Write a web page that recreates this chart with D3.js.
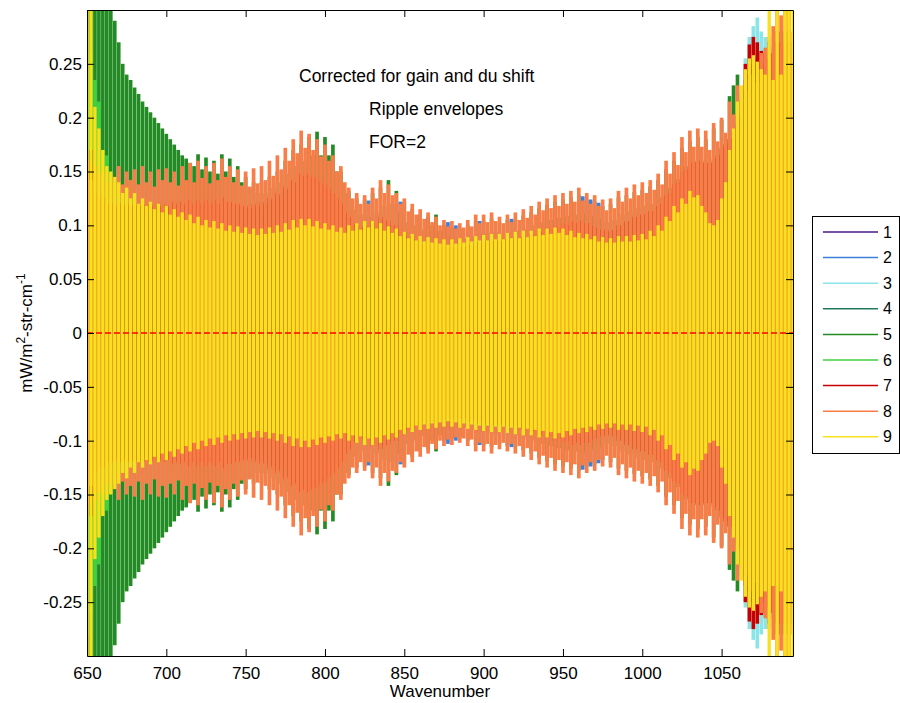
<!DOCTYPE html>
<html>
<head>
<meta charset="utf-8">
<script src="https://cdn.jsdelivr.net/npm/d3@7"></script>
<style>
body { margin: 0; background: #fff; }
svg text { font-family: "Liberation Sans", Arial, sans-serif; }
</style>
</head>
<body>
<div id="chart"></div>
<script>
// ripple envelope (mW/m2-str-cm-1), one value every 2.5 cm-1 from 650 to 1095
var wavenumber = d3.range(650, 1095.01, 2.5);

var ripple1 = [
  0.20,0.16,0.13,0.12, 0.115,0.112,0.11,0.11, 0.11,0.108,0.11,0.108, 0.11,0.108,0.11,0.108,
  0.11,0.108,0.11,0.108, 0.11,0.108,0.112,0.11, 0.112,0.11,0.114,0.11, 0.114,0.11,0.114,0.11,
  0.114,0.11,0.116,0.112, 0.112,0.11,0.11,0.108, 0.108,0.106,0.11,0.108, 0.112,0.11,0.116,0.114,
  0.12,0.118,0.126,0.124, 0.132,0.13,0.138,0.136, 0.138,0.135,0.134,0.13, 0.128,0.124,0.12,0.115,
  0.11,0.104,0.10,0.095, 0.093,0.091,0.093,0.091, 0.097,0.095,0.10,0.098, 0.097,0.093,0.093,0.09,
  0.088,0.085,0.085,0.082, 0.081,0.079,0.08,0.078, 0.078,0.076,0.076,0.075, 0.076,0.075,0.076,0.076,
  0.078,0.077,0.08,0.079, 0.081,0.08,0.082,0.081, 0.082,0.081,0.083,0.082, 0.084,0.083,0.086,0.085,
  0.088,0.087,0.09,0.089, 0.092,0.091,0.094,0.093, 0.096,0.095,0.097,0.096, 0.097,0.096,0.095,0.094,
  0.092,0.09,0.09,0.088, 0.09,0.089,0.093,0.093, 0.096,0.096,0.10,0.10, 0.102,0.102,0.105,0.105,
  0.11,0.112,0.119,0.121, 0.128,0.13,0.14,0.142, 0.147,0.147,0.149,0.147, 0.147,0.147,0.151,0.154,
  0.16,0.168,0.178,0.188, 0.195,0.205,0.22,0.235, 0.245,0.245,0.24,0.238, 0.24,0.245,0.25,0.25,
  0.25,0.25,0.245
];
var ripple2 = [
  0.22,0.18,0.14,0.13, 0.125,0.12,0.12,0.118, 0.12,0.115,0.118,0.115, 0.118,0.115,0.118,0.115,
  0.118,0.115,0.118,0.116, 0.118,0.116,0.12,0.118, 0.12,0.118,0.122,0.118, 0.122,0.118,0.122,0.118,
  0.122,0.118,0.124,0.12, 0.12,0.118,0.118,0.116, 0.116,0.114,0.118,0.116, 0.12,0.118,0.124,0.122,
  0.128,0.126,0.134,0.132, 0.14,0.138,0.146,0.144, 0.146,0.143,0.142,0.138, 0.136,0.132,0.128,0.123,
  0.118,0.11,0.106,0.10, 0.098,0.096,0.10,0.123, 0.104,0.102,0.108,0.105, 0.104,0.10,0.10,0.122,
  0.094,0.09,0.09,0.087, 0.086,0.083,0.084,0.082, 0.082,0.08,0.08,0.103, 0.08,0.10,0.08,0.08,
  0.082,0.081,0.084,0.104, 0.085,0.084,0.086,0.085, 0.086,0.085,0.087,0.106, 0.088,0.087,0.09,0.089,
  0.092,0.091,0.095,0.094, 0.098,0.096,0.10,0.098, 0.102,0.10,0.104,0.102, 0.104,0.127,0.102,0.124,
  0.098,0.121,0.096,0.094, 0.096,0.095,0.10,0.10, 0.104,0.104,0.108,0.108, 0.11,0.11,0.113,0.113,
  0.118,0.12,0.128,0.13, 0.138,0.14,0.15,0.152, 0.158,0.158,0.16,0.158, 0.158,0.158,0.162,0.165,
  0.172,0.175,0.18,0.18, 0.19,0.20,0.23,0.245, 0.255,0.255,0.25,0.25, 0.25,0.255,0.26,0.26,
  0.26,0.26,0.255
];
var ripple3 = [
  0.21,0.17,0.135,0.125, 0.12,0.116,0.115,0.114, 0.115,0.112,0.114,0.112, 0.114,0.112,0.114,0.112,
  0.114,0.112,0.114,0.112, 0.114,0.112,0.116,0.114, 0.116,0.114,0.118,0.114, 0.118,0.114,0.118,0.114,
  0.118,0.114,0.12,0.116, 0.116,0.114,0.114,0.112, 0.112,0.11,0.114,0.112, 0.116,0.114,0.12,0.118,
  0.124,0.122,0.13,0.128, 0.136,0.134,0.142,0.14, 0.142,0.139,0.138,0.134, 0.132,0.128,0.124,0.119,
  0.114,0.107,0.103,0.098, 0.096,0.094,0.097,0.095, 0.10,0.098,0.104,0.101, 0.10,0.096,0.096,0.093,
  0.091,0.087,0.087,0.084, 0.083,0.081,0.082,0.08, 0.08,0.078,0.078,0.077, 0.078,0.077,0.078,0.078,
  0.08,0.079,0.082,0.081, 0.083,0.082,0.084,0.083, 0.084,0.083,0.085,0.084, 0.086,0.085,0.088,0.087,
  0.09,0.089,0.093,0.092, 0.096,0.094,0.098,0.096, 0.10,0.098,0.10,0.099, 0.10,0.098,0.098,0.096,
  0.094,0.092,0.092,0.09, 0.092,0.091,0.096,0.096, 0.10,0.10,0.104,0.104, 0.106,0.106,0.109,0.109,
  0.114,0.116,0.124,0.126, 0.134,0.136,0.146,0.148, 0.154,0.154,0.156,0.154, 0.154,0.154,0.158,0.161,
  0.168,0.176,0.18,0.18, 0.20,0.225,0.255,0.275, 0.285,0.293,0.28,0.275, 0.26,0.265,0.27,0.27,
  0.27,0.27,0.26
];
var ripple4 = [
  0.25,0.20,0.15,0.13, 0.12,0.117,0.116,0.115, 0.116,0.113,0.115,0.113, 0.115,0.113,0.115,0.113,
  0.115,0.113,0.115,0.113, 0.115,0.113,0.117,0.115, 0.117,0.115,0.119,0.115, 0.119,0.115,0.119,0.115,
  0.119,0.115,0.121,0.117, 0.117,0.115,0.115,0.113, 0.113,0.111,0.115,0.113, 0.117,0.115,0.121,0.119,
  0.125,0.123,0.131,0.129, 0.137,0.135,0.143,0.141, 0.143,0.14,0.139,0.135, 0.133,0.129,0.125,0.12,
  0.115,0.108,0.104,0.099, 0.097,0.095,0.098,0.096, 0.101,0.099,0.105,0.102, 0.101,0.097,0.097,0.094,
  0.092,0.088,0.088,0.085, 0.084,0.082,0.083,0.081, 0.081,0.079,0.079,0.078, 0.079,0.078,0.079,0.079,
  0.081,0.08,0.083,0.082, 0.084,0.083,0.085,0.084, 0.085,0.084,0.086,0.085, 0.087,0.086,0.089,0.088,
  0.091,0.09,0.094,0.093, 0.097,0.095,0.099,0.097, 0.101,0.099,0.101,0.10, 0.101,0.099,0.099,0.097,
  0.095,0.093,0.093,0.091, 0.093,0.092,0.097,0.097, 0.101,0.101,0.105,0.105, 0.107,0.107,0.11,0.11,
  0.115,0.117,0.125,0.127, 0.135,0.137,0.147,0.149, 0.155,0.155,0.157,0.155, 0.155,0.155,0.16,0.163,
  0.17,0.175,0.18,0.18, 0.19,0.20,0.225,0.24, 0.25,0.25,0.245,0.245, 0.245,0.25,0.255,0.255,
  0.255,0.255,0.25
];
var ripple5 = [
  0.30,0.30,0.30,0.30, 0.30,0.30,0.30,0.29, 0.27,0.25,0.24,0.235, 0.228,0.222,0.215,0.21,
  0.205,0.20,0.195,0.19, 0.185,0.18,0.175,0.17, 0.165,0.162,0.158,0.155, 0.166,0.152,0.163,0.15,
  0.16,0.148,0.166,0.15, 0.162,0.145,0.155,0.14, 0.145,0.135,0.14,0.13, 0.14,0.13,0.145,0.135,
  0.15,0.14,0.16,0.148, 0.17,0.155,0.175,0.16, 0.182,0.165,0.187,0.165, 0.182,0.165,0.175,0.15,
  0.15,0.13,0.132,0.115, 0.125,0.11,0.124,0.108, 0.13,0.112,0.135,0.118, 0.142,0.12,0.132,0.112,
  0.122,0.103,0.115,0.10, 0.11,0.096,0.108,0.10, 0.11,0.095,0.10,0.09, 0.098,0.088,0.097,0.088,
  0.10,0.09,0.104,0.092, 0.104,0.093,0.106,0.094, 0.103,0.092,0.105,0.093, 0.106,0.095,0.109,0.097,
  0.112,0.10,0.116,0.103, 0.119,0.105,0.122,0.107, 0.124,0.109,0.126,0.11, 0.128,0.111,0.124,0.108,
  0.122,0.106,0.118,0.103, 0.12,0.105,0.126,0.11, 0.128,0.113,0.131,0.116, 0.133,0.118,0.136,0.12,
  0.142,0.126,0.152,0.135, 0.16,0.143,0.172,0.155, 0.178,0.16,0.182,0.16, 0.18,0.158,0.19,0.165,
  0.198,0.175,0.22,0.23, 0.24,0.215,0.235,0.215, 0.25,0.235,0.26,0.25, 0.27,0.26,0.28,0.28,
  0.28,0.28,0.27
];
var ripple6 = [
  0.28,0.26,0.235,0.215, 0.17,0.165,0.14,0.13, 0.118,0.114,0.116,0.114, 0.116,0.114,0.116,0.114,
  0.116,0.114,0.116,0.114, 0.116,0.114,0.118,0.116, 0.118,0.116,0.12,0.116, 0.12,0.116,0.12,0.116,
  0.12,0.116,0.122,0.118, 0.118,0.116,0.116,0.114, 0.114,0.112,0.116,0.114, 0.118,0.116,0.122,0.12,
  0.126,0.124,0.132,0.13, 0.138,0.136,0.144,0.142, 0.144,0.141,0.14,0.136, 0.134,0.13,0.126,0.121,
  0.116,0.109,0.105,0.10, 0.098,0.096,0.099,0.097, 0.102,0.10,0.106,0.103, 0.102,0.098,0.098,0.095,
  0.093,0.089,0.089,0.086, 0.085,0.083,0.084,0.082, 0.082,0.08,0.08,0.079, 0.08,0.079,0.08,0.08,
  0.082,0.081,0.084,0.083, 0.085,0.084,0.086,0.085, 0.086,0.085,0.087,0.086, 0.088,0.087,0.09,0.089,
  0.092,0.091,0.095,0.094, 0.098,0.096,0.10,0.098, 0.102,0.10,0.102,0.101, 0.102,0.10,0.10,0.098,
  0.096,0.094,0.094,0.092, 0.094,0.093,0.098,0.098, 0.102,0.102,0.106,0.106, 0.108,0.108,0.111,0.111,
  0.116,0.118,0.126,0.128, 0.136,0.138,0.148,0.15, 0.156,0.156,0.158,0.156, 0.156,0.156,0.161,0.164,
  0.171,0.175,0.18,0.18, 0.19,0.20,0.225,0.24, 0.25,0.25,0.245,0.245, 0.245,0.25,0.255,0.255,
  0.255,0.255,0.25
];
var ripple7 = [
  0.14,0.17,0.13,0.125, 0.125,0.12,0.12,0.118, 0.12,0.118,0.12,0.118, 0.12,0.118,0.12,0.118,
  0.12,0.118,0.12,0.118, 0.12,0.118,0.122,0.12, 0.122,0.12,0.124,0.12, 0.124,0.12,0.124,0.12,
  0.124,0.12,0.126,0.122, 0.122,0.12,0.12,0.118, 0.118,0.116,0.12,0.118, 0.122,0.12,0.126,0.124,
  0.13,0.128,0.136,0.134, 0.142,0.14,0.148,0.146, 0.148,0.145,0.144,0.14, 0.138,0.134,0.13,0.125,
  0.12,0.112,0.108,0.102, 0.10,0.098,0.10,0.098, 0.104,0.102,0.108,0.105, 0.104,0.10,0.10,0.096,
  0.094,0.09,0.09,0.087, 0.086,0.083,0.084,0.082, 0.082,0.08,0.08,0.079, 0.08,0.079,0.08,0.08,
  0.082,0.081,0.084,0.083, 0.085,0.084,0.086,0.085, 0.086,0.085,0.087,0.086, 0.088,0.087,0.09,0.089,
  0.092,0.091,0.095,0.094, 0.098,0.096,0.10,0.098, 0.102,0.10,0.104,0.102, 0.104,0.102,0.102,0.10,
  0.098,0.096,0.096,0.094, 0.096,0.095,0.10,0.10, 0.104,0.104,0.108,0.108, 0.11,0.11,0.113,0.113,
  0.118,0.12,0.128,0.13, 0.138,0.14,0.15,0.152, 0.158,0.158,0.16,0.158, 0.158,0.158,0.162,0.165,
  0.172,0.175,0.18,0.18, 0.19,0.20,0.25,0.268, 0.275,0.27,0.262,0.26, 0.255,0.26,0.27,0.27,
  0.27,0.27,0.26
];
var ripple8 = [
  0.16,0.142,0.155,0.148, 0.15,0.14,0.148,0.14, 0.155,0.138,0.15,0.142, 0.152,0.138,0.155,0.14,
  0.15,0.136,0.152,0.142, 0.153,0.14,0.15,0.137, 0.155,0.142,0.158,0.14, 0.16,0.144,0.155,0.139,
  0.158,0.142,0.162,0.145, 0.155,0.14,0.152,0.137, 0.15,0.136,0.153,0.139, 0.155,0.142,0.16,0.146,
  0.165,0.152,0.172,0.16, 0.18,0.167,0.188,0.172, 0.185,0.17,0.18,0.164, 0.175,0.16,0.165,0.15,
  0.155,0.14,0.135,0.125, 0.13,0.12,0.128,0.12, 0.135,0.125,0.142,0.13, 0.138,0.128,0.13,0.12,
  0.125,0.113,0.12,0.11, 0.115,0.106,0.112,0.103, 0.108,0.10,0.105,0.099, 0.104,0.097,0.102,0.098,
  0.105,0.099,0.11,0.102, 0.11,0.103,0.112,0.104, 0.108,0.102,0.11,0.103, 0.112,0.105,0.115,0.107,
  0.118,0.11,0.122,0.114, 0.125,0.116,0.128,0.118, 0.13,0.12,0.132,0.122, 0.135,0.123,0.13,0.12,
  0.128,0.118,0.124,0.114, 0.125,0.116,0.132,0.122, 0.135,0.125,0.138,0.128, 0.14,0.13,0.142,0.133,
  0.148,0.138,0.16,0.148, 0.168,0.156,0.182,0.168, 0.188,0.173,0.19,0.173, 0.188,0.17,0.195,0.178,
  0.20,0.186,0.215,0.203, 0.23,0.218,0.235,0.225, 0.24,0.232,0.26,0.265, 0.275,0.285,0.30,0.295,
  0.30,0.30,0.28
];
var ripple9 = [
  0.30,0.30,0.21,0.19, 0.17,0.155,0.15,0.145, 0.14,0.13,0.135,0.125, 0.13,0.12,0.125,0.118,
  0.122,0.115,0.12,0.112, 0.118,0.11,0.115,0.108, 0.112,0.105,0.11,0.102, 0.108,0.10,0.105,0.098,
  0.104,0.097,0.102,0.095, 0.10,0.094,0.099,0.093, 0.098,0.092,0.097,0.091, 0.097,0.092,0.098,0.093,
  0.10,0.094,0.102,0.096, 0.105,0.098,0.106,0.10, 0.106,0.099,0.104,0.097, 0.102,0.096,0.10,0.094,
  0.098,0.093,0.10,0.095, 0.102,0.096,0.104,0.098, 0.104,0.097,0.102,0.095, 0.099,0.093,0.097,0.09,
  0.094,0.088,0.092,0.086, 0.09,0.085,0.089,0.084, 0.088,0.083,0.087,0.082, 0.087,0.083,0.088,0.084,
  0.089,0.085,0.09,0.086, 0.091,0.086,0.092,0.087, 0.092,0.087,0.093,0.088, 0.094,0.088,0.095,0.089,
  0.095,0.09,0.097,0.091, 0.097,0.092,0.098,0.093, 0.097,0.091,0.095,0.089, 0.093,0.088,0.092,0.087,
  0.09,0.085,0.089,0.084, 0.088,0.084,0.09,0.085, 0.09,0.085,0.091,0.086, 0.092,0.087,0.095,0.09,
  0.10,0.095,0.108,0.104, 0.118,0.112,0.125,0.12, 0.132,0.126,0.128,0.118, 0.112,0.102,0.10,0.105,
  0.125,0.14,0.17,0.19, 0.215,0.23,0.245,0.255, 0.258,0.252,0.245,0.24, 0.30,0.235,0.30,0.24,
  0.30,0.30,0.30
];

var seriesLabels = ['1', '2', '3', '4', '5', '6', '7', '8', '9'];
var xTicks = [650, 700, 750, 800, 850, 900, 950, 1000, 1050];
var yTicks = [-0.25, -0.2, -0.15, -0.1, -0.05, 0, 0.05, 0.1, 0.15, 0.2, 0.25];
var notes = ['Corrected for gain and du shift', 'Ripple envelopes', 'FOR=2'];

var series = [ripple1, ripple2, ripple3, ripple4, ripple5, ripple6, ripple7, ripple8, ripple9];
var colors = ['#4a1a8a', '#3f7fdc', '#8ae4e8', '#1f7a5c', '#238b23', '#40d040', '#c80000', '#fa7d48', '#f8e11c'];

series.forEach(function(s, k){
  if (s.length !== wavenumber.length) throw new Error('ripple' + (k + 1) + ' has ' + s.length + ' values');
});

var width = 900, height = 703;
var plotLeft = 87, plotRight = 793, plotTop = 10, plotBottom = 656;

var x = d3.scaleLinear().domain([650, 1095]).range([plotLeft, plotRight]);
var y = d3.scaleLinear().domain([-0.3, 0.3]).range([plotBottom, plotTop]);

var svg = d3.select('#chart').append('svg')
  .attr('width', width)
  .attr('height', height);

svg.append('clipPath').attr('id', 'plot')
  .append('rect')
  .attr('x', plotLeft).attr('y', plotTop)
  .attr('width', plotRight - plotLeft).attr('height', plotBottom - plotTop);

var step = x(wavenumber[1]) - x(wavenumber[0]);
var plot = svg.append('g').attr('clip-path', 'url(#plot)');

series.forEach(function(s, k){
  var w = k === 8 ? step * 0.84 : step * 0.92;
  plot.append('g')
    .attr('fill', colors[k])
    .selectAll('rect')
    .data(s)
    .join('rect')
      .attr('x', function(d, i){ return x(wavenumber[i]) - w / 2; })
      .attr('y', function(d){ return y(d); })
      .attr('width', w)
      .attr('height', function(d){ return y(-d) - y(d); });
});

plot.append('line')
  .attr('x1', plotLeft).attr('x2', plotRight)
  .attr('y1', y(0)).attr('y2', y(0))
  .style('stroke', '#ff0000')
  .style('stroke-width', 1.5)
  .style('stroke-dasharray', '6,3');

var fmt = function(d){ return String(+d.toFixed(2)); };
var fontSize = 17;

var axes = [
  d3.axisBottom(x).tickValues(xTicks).tickSizeInner(-7).tickSizeOuter(0).tickPadding(11).tickFormat(fmt),
  d3.axisTop(x).tickValues(xTicks).tickSizeInner(-7).tickSizeOuter(0).tickFormat(''),
  d3.axisLeft(y).tickValues(yTicks).tickSizeInner(-7).tickSizeOuter(0).tickPadding(5).tickFormat(fmt),
  d3.axisRight(y).tickValues(yTicks).tickSizeInner(-7).tickSizeOuter(0).tickFormat('')
];
var shifts = ['translate(0,' + plotBottom + ')', 'translate(0,' + plotTop + ')',
              'translate(' + plotLeft + ',0)', 'translate(' + plotRight + ',0)'];
axes.forEach(function(a, i){
  svg.append('g')
    .attr('transform', shifts[i])
    .call(a)
    .attr('font-size', fontSize)
    .attr('font-family', '"Liberation Sans", Arial, sans-serif')
    .selectAll('text').attr('fill', '#000');
});

svg.append('text')
  .attr('x', (plotLeft + plotRight) / 2)
  .attr('y', 697)
  .attr('text-anchor', 'middle')
  .style('font-size', fontSize + 'px')
  .text('Wavenumber');

var ylab = svg.append('text')
  .attr('transform', 'translate(32,' + y(0) + ') rotate(-90)')
  .attr('text-anchor', 'middle')
  .style('font-size', fontSize + 'px');
ylab.append('tspan').text('mW/m');
ylab.append('tspan').attr('dy', -7).style('font-size', '12px').text('2');
ylab.append('tspan').attr('dy', 7).text('-str-cm');
ylab.append('tspan').attr('dy', -7).style('font-size', '12px').text('-1');

svg.append('text').attr('x', 299).attr('y', 82).style('font-size', '17.5px').text(notes[0]);
svg.append('text').attr('x', 369).attr('y', 115).style('font-size', '17.5px').text(notes[1]);
svg.append('text').attr('x', 369).attr('y', 148).style('font-size', '17.5px').text(notes[2]);

var legend = svg.append('g');
legend.append('rect')
  .attr('x', 812.5).attr('y', 216.5)
  .attr('width', 87).attr('height', 237)
  .style('fill', '#fff')
  .style('stroke', '#000')
  .style('stroke-width', 1);

var rows = legend.selectAll('g.row')
  .data(seriesLabels)
  .join('g')
    .attr('class', 'row')
    .attr('transform', function(d, i){ return 'translate(0,' + (232 + i * 25.6) + ')'; });
rows.append('line')
  .attr('x1', 823).attr('x2', 878)
  .style('stroke', function(d, i){ return colors[i]; })
  .style('stroke-width', 1.5);
rows.append('text')
  .attr('x', 883)
  .attr('dy', '0.35em')
  .style('font-size', '16px')
  .text(function(d){ return d; });
</script>
</body>
</html>
